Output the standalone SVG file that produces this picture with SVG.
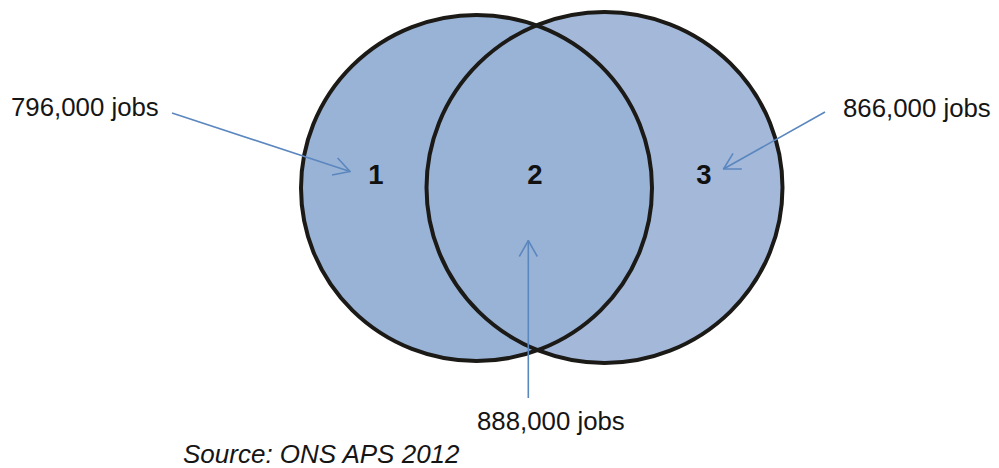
<svg xmlns="http://www.w3.org/2000/svg" width="999" height="468" viewBox="0 0 999 468">
  <style>
    .set-fill { stroke: none; }
    .set-edge { fill: none; stroke: #1c1a17; stroke-width: 4; }
    .region { font-family: "Liberation Sans", Arial, sans-serif; font-weight: bold; font-size: 27.5px; fill: #111; text-anchor: middle; }
    .count { font-family: "Liberation Sans", Arial, sans-serif; font-size: 25.8px; fill: #151515; }
    .source { font-family: "Liberation Sans", Arial, sans-serif; font-style: italic; font-size: 26px; fill: #151515; }
    .pointer { fill: none; stroke: #5b87bf; stroke-width: 1.6; marker-end: url(#open-head); }
  </style>
  <defs>
    <marker id="open-head" viewBox="0 0 18 20" refX="17" refY="10" markerWidth="18" markerHeight="20" markerUnits="userSpaceOnUse" orient="auto">
      <path d="M1,1 L17,10 L1,19" fill="none" stroke="#5b87bf" stroke-width="1.6"/>
    </marker>
  </defs>
  <rect width="999" height="468" fill="#ffffff"/>

  <!-- the two overlapping sets: fills first, outlines on top -->
  <g id="set-right">
    <ellipse class="set-fill" cx="604.5" cy="187.5" rx="178" ry="175.5" fill="#a4b9da"/>
  </g>
  <g id="set-left">
    <ellipse class="set-fill" cx="476.5" cy="188" rx="175.5" ry="173" fill="#99b3d6"/>
  </g>
  <g id="outlines">
    <ellipse class="set-edge" cx="604.5" cy="187.5" rx="178" ry="175.5"/>
    <ellipse class="set-edge" cx="476.5" cy="188" rx="175.5" ry="173"/>
  </g>

  <!-- region numbers -->
  <g id="region-1"><text class="region" x="376" y="184">1</text></g>
  <g id="region-2"><text class="region" x="535" y="184">2</text></g>
  <g id="region-3"><text class="region" x="704" y="184">3</text></g>

  <!-- counts -->
  <g id="label-796"><text class="count" x="11" y="116">796,000 jobs</text></g>
  <g id="label-866"><text class="count" x="843" y="117">866,000 jobs</text></g>
  <g id="label-888"><text class="count" x="477" y="430">888,000 jobs</text></g>

  <g id="connectors">
    <line class="pointer" x1="172" y1="113" x2="350" y2="171.5"/>
    <line class="pointer" x1="825" y1="112" x2="723.5" y2="169"/>
    <line class="pointer" x1="528.3" y1="398" x2="528.3" y2="240.5"/>
  </g>

  <g id="source-note"><text class="source" x="183" y="463">Source: ONS APS 2012</text></g>
</svg>
